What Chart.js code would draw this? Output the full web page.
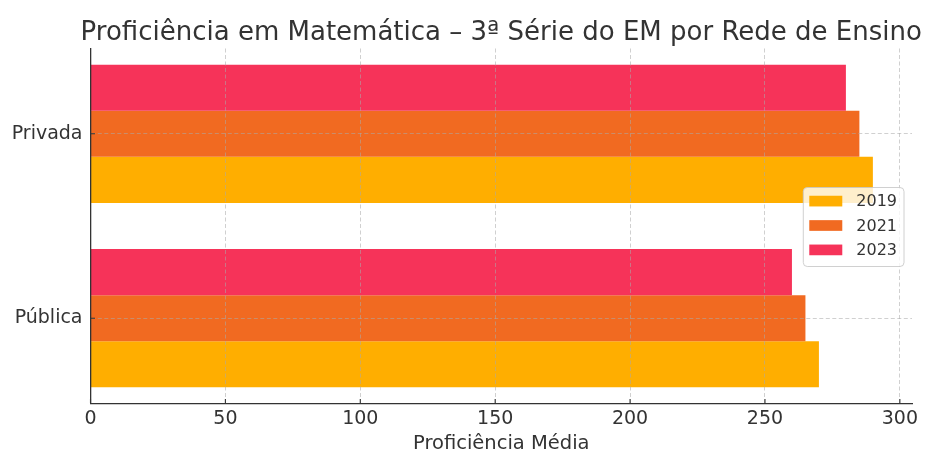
<!DOCTYPE html>
<html lang="pt-BR">
<head>
<meta charset="utf-8">
<title>Proficiência em Matemática</title>
<script src="https://cdn.jsdelivr.net/npm/chart.js@4.4.1/dist/chart.umd.min.js"></script>
<style>
  html, body { margin: 0; padding: 0; background: #ffffff; }
  canvas { display: block; }
</style>
</head>
<body>
<canvas id="chart" width="926" height="453"></canvas>
<script>
// Texts
const chartTitle = 'Proficiência em Matemática – 3ª Série do EM por Rede de Ensino';
const xAxisTitle = 'Proficiência Média';

// Data
const categories = ['Pública', 'Privada'];
const years = ['2019', '2021', '2023'];
const values2019 = [270, 290];
const values2021 = [265, 285];
const values2023 = [260, 280];
const xTickValues = [0, 50, 100, 150, 200, 250, 300];

// Styling
const seriesColors = ['#FFAE00', '#F16A21', '#F63359'];
const FONT = "'DejaVu Sans', 'Noto Sans', sans-serif";
const TEXT_COLOR = '#333333';
const AXIS_COLOR = '#333333';
const GRID_COLOR = 'rgba(170,170,170,0.55)';
const GROUP_FRACTION = 0.75;   // share of each category taken by its group of bars

const seriesValues = [values2019, values2021, values2023];
const xMax = Math.max(...seriesValues.flat()) * 1.05;

// Within a group Chart.js stacks datasets top-down, so the latest year goes first
// to keep 2019 at the bottom of each group.
const datasets = years.map((year, i) => ({
  label: year,
  data: seriesValues[i],
  backgroundColor: seriesColors[i],
  borderWidth: 0,
  categoryPercentage: GROUP_FRACTION,
  barPercentage: 1.0
})).reverse();

// Title drawn centred over the plot area
const titlePlugin = {
  id: 'plotTitle',
  afterDraw(chart) {
    const { ctx, chartArea } = chart;
    ctx.save();
    ctx.font = `26px ${FONT}`;
    ctx.fillStyle = TEXT_COLOR;
    ctx.textAlign = 'center';
    ctx.textBaseline = 'alphabetic';
    ctx.fillText(chartTitle, (chartArea.left + chartArea.right) / 2, 39.5);
    ctx.restore();
  }
};

// Short tick marks pointing into the plot area
const innerTicks = {
  id: 'innerTicks',
  afterDraw(chart) {
    const { ctx, chartArea, scales } = chart;
    const len = 4.5;
    ctx.save();
    ctx.strokeStyle = AXIS_COLOR;
    ctx.lineWidth = 1.1;
    ctx.beginPath();
    scales.x.ticks.forEach((t, i) => {
      const px = scales.x.getPixelForTick(i);
      ctx.moveTo(px, chartArea.bottom);
      ctx.lineTo(px, chartArea.bottom - len);
    });
    scales.y.ticks.forEach((t, i) => {
      const py = scales.y.getPixelForTick(i);
      ctx.moveTo(chartArea.left, py);
      ctx.lineTo(chartArea.left + len, py);
    });
    ctx.stroke();
    ctx.restore();
  }
};

// Framed legend placed inside the plot, right side, years in ascending order
const legendBox = {
  id: 'legendBox',
  afterDraw(chart) {
    const { ctx, chartArea } = chart;
    const items = chart.data.datasets
      .map(ds => ({ text: ds.label, color: ds.backgroundColor }))
      .sort((a, b) => a.text.localeCompare(b.text));
    const fontSize = 16;
    const rowH = 24.4;
    const padX = 6, patchW = 33, patchH = 10.7, gap = 14, padR = 7;
    ctx.save();
    ctx.font = `${fontSize}px ${FONT}`;
    const textW = Math.max(...items.map(it => ctx.measureText(it.text).width));
    const w = padX + patchW + gap + textW + padR;
    const h = 79;
    const x = chartArea.right - 8 - w;
    const y = (chartArea.top + chartArea.bottom) / 2 + 1 - h / 2;
    ctx.beginPath();
    ctx.roundRect(x, y, w, h, 4);
    ctx.fillStyle = 'rgba(255,255,255,0.8)';
    ctx.fill();
    ctx.strokeStyle = 'rgba(200,200,200,0.85)';
    ctx.lineWidth = 1;
    ctx.stroke();
    ctx.textAlign = 'left';
    ctx.textBaseline = 'middle';
    items.forEach((it, i) => {
      const cy = y + 13.6 + i * rowH;
      ctx.fillStyle = it.color;
      ctx.fillRect(x + padX, cy - patchH / 2, patchW, patchH);
      ctx.fillStyle = TEXT_COLOR;
      ctx.fillText(it.text, x + padX + patchW + gap, cy + 1);
    });
    ctx.restore();
  }
};

new Chart(document.getElementById('chart'), {
  type: 'bar',
  data: { labels: categories, datasets },
  options: {
    indexAxis: 'y',
    responsive: false,
    animation: false,
    events: [],
    layout: { padding: { top: 48.5, right: 14, bottom: 0, left: 0 } },
    plugins: {
      legend: { display: false },
      title: { display: false },
      tooltip: { enabled: false }
    },
    scales: {
      x: {
        type: 'linear',
        min: 0,
        max: xMax,
        afterBuildTicks(scale) {
          scale.ticks = xTickValues.map(v => ({ value: v }));
        },
        afterFit(scale) { scale.height = 49.5; },
        ticks: {
          font: { family: FONT, size: 19 },
          color: TEXT_COLOR,
          padding: 4,
          maxRotation: 0
        },
        grid: { color: GRID_COLOR, lineWidth: 1, drawTicks: false, z: 1 },
        border: { display: true, color: AXIS_COLOR, width: 1.3, dash: [4, 2.5], z: 2 },
        title: {
          display: true,
          text: xAxisTitle,
          font: { family: FONT, size: 19.5, lineHeight: 1.0 },
          color: TEXT_COLOR,
          padding: { top: 0, bottom: -1 }
        }
      },
      y: {
        type: 'category',
        reverse: true,
        offset: true,
        afterBuildTicks(scale) {
          // data span of the bar groups plus a 5% margin on each side
          const span = (categories.length - 1) + GROUP_FRACTION;
          const margin = 0.05 * span;
          scale._startValue = -GROUP_FRACTION / 2 - margin;
          scale._valueRange = span + 2 * margin;
        },
        afterFit(scale) { scale.width = 90.5; },
        ticks: {
          font: { family: FONT, size: 19 },
          color: TEXT_COLOR,
          padding: 8
        },
        grid: { color: GRID_COLOR, lineWidth: 1, drawTicks: false, offset: false, z: 1 },
        border: { display: true, color: AXIS_COLOR, width: 1.3, dash: [4, 2.5], z: 2 }
      }
    }
  },
  plugins: [titlePlugin, legendBox, innerTicks]
});
</script>
</body>
</html>
